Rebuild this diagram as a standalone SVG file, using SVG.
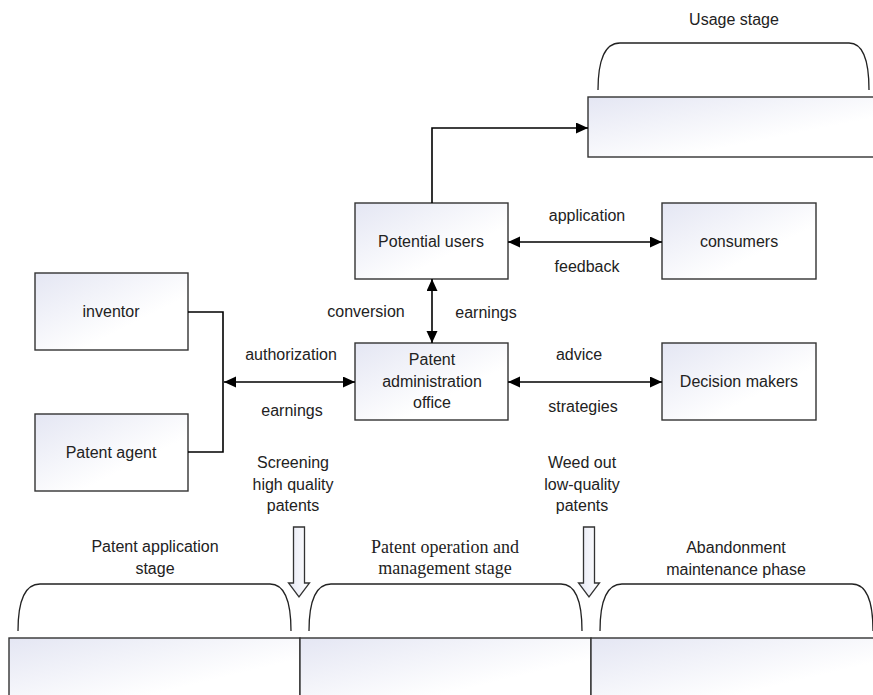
<svg xmlns="http://www.w3.org/2000/svg" width="873" height="695" viewBox="0 0 873 695">
<defs>
  <linearGradient id="g" x1="0" y1="0" x2="1" y2="1">
    <stop offset="0" stop-color="#e4e6f3"/>
    <stop offset="0.65" stop-color="#ffffff"/>
  </linearGradient>
  <linearGradient id="ga" x1="0" y1="0" x2="1" y2="0">
    <stop offset="0" stop-color="#e6e8f4"/>
    <stop offset="1" stop-color="#ffffff"/>
  </linearGradient>
  <marker id="ah" markerUnits="userSpaceOnUse" markerWidth="14" markerHeight="12" refX="12" refY="5.5" orient="auto-start-reverse">
    <path d="M0,0 L12,5.5 L0,11 z" fill="#000"/>
  </marker>
</defs>
<style>
  .box{fill:url(#g);stroke:#333;stroke-width:1.4}
  .t{font-family:"Liberation Sans",Arial,sans-serif;font-size:16px;fill:#222;text-anchor:middle}
  .s{font-family:"Liberation Serif","Times New Roman",serif;font-size:18px;fill:#222;text-anchor:middle}
  .ln{fill:none;stroke:#000;stroke-width:1.6}
  .br{fill:none;stroke:#222;stroke-width:1.3}
  .ha{fill:url(#ga);stroke:#333;stroke-width:1.3}
</style>

<!-- stage braces and boxes -->
<g id="usage-stage">
  <text class="t" x="734" y="25">Usage stage</text>
  <path class="br" d="M598,90 C598,62 604,43 620,43 H849 C864,43 869,62 869,90"/>
  <rect class="box" x="588" y="97" width="300" height="60"/>
</g>
<g id="application-stage">
  <text class="t" x="155" y="552">Patent application</text>
  <text class="t" x="155" y="574">stage</text>
  <path class="br" d="M18,631 C18,603 24,584 40,584 H270 C285,584 291,603 291,631"/>
  <rect class="box" x="9" y="638" width="291" height="70"/>
</g>
<g id="operation-stage">
  <text class="s" x="445" y="553">Patent operation and</text>
  <text class="s" x="445" y="574">management stage</text>
  <path class="br" d="M309,631 C309,603 315,584 331,584 H561 C576,584 582,603 582,631"/>
  <rect class="box" x="300" y="638" width="291" height="70"/>
</g>
<g id="abandonment-stage">
  <text class="t" x="736" y="553">Abandonment</text>
  <text class="t" x="736" y="575">maintenance phase</text>
  <path class="br" d="M600,631 C600,603 606,584 622,584 H852 C867,584 873,603 873,631"/>
  <rect class="box" x="591" y="638" width="300" height="70"/>
</g>

<!-- nodes -->
<g id="inventor">
  <rect class="box" x="35" y="273" width="153" height="77"/>
  <text class="t" x="111" y="317">inventor</text>
</g>
<g id="patent-agent">
  <rect class="box" x="35" y="414" width="153" height="77"/>
  <text class="t" x="111" y="458">Patent agent</text>
</g>
<g id="potential-users">
  <rect class="box" x="355" y="203" width="153" height="76"/>
  <text class="t" x="431" y="247">Potential users</text>
</g>
<g id="consumers">
  <rect class="box" x="662" y="203" width="154" height="76"/>
  <text class="t" x="739" y="247">consumers</text>
</g>
<g id="patent-office">
  <rect class="box" x="355" y="343" width="153" height="77"/>
  <text class="t" x="432" y="365">Patent</text>
  <text class="t" x="432" y="387">administration</text>
  <text class="t" x="432" y="408">office</text>
</g>
<g id="decision-makers">
  <rect class="box" x="662" y="343" width="154" height="77"/>
  <text class="t" x="739" y="387">Decision makers</text>
</g>

<!-- connectors -->
<g id="connectors">
  <path class="ln" d="M432,203 V128 H588" marker-end="url(#ah)"/>
  <line class="ln" x1="508" y1="242" x2="662" y2="242" marker-start="url(#ah)" marker-end="url(#ah)"/>
  <line class="ln" x1="508" y1="382" x2="662" y2="382" marker-start="url(#ah)" marker-end="url(#ah)"/>
  <line class="ln" x1="432" y1="279" x2="432" y2="343" marker-start="url(#ah)" marker-end="url(#ah)"/>
  <path class="ln" d="M188,312 H223 V452 H188"/>
  <line class="ln" x1="224" y1="382" x2="355" y2="382" marker-start="url(#ah)" marker-end="url(#ah)"/>
  <polygon class="ha" points="293.5,527 304.5,527 304.5,583 309.5,583 299,597 288.5,583 293.5,583"/>
  <polygon class="ha" points="583.5,527 594.5,527 594.5,583 599.5,583 589,597 578.5,583 583.5,583"/>
</g>

<!-- connector labels -->
<g id="labels">
  <text class="t" x="587" y="221">application</text>
  <text class="t" x="587" y="272">feedback</text>
  <text class="t" x="366" y="317">conversion</text>
  <text class="t" x="486" y="318">earnings</text>
  <text class="t" x="291" y="360">authorization</text>
  <text class="t" x="292" y="416">earnings</text>
  <text class="t" x="579" y="360">advice</text>
  <text class="t" x="583" y="412">strategies</text>
  <text class="t" x="293" y="468">Screening</text>
  <text class="t" x="293" y="490">high quality</text>
  <text class="t" x="293" y="511">patents</text>
  <text class="t" x="582" y="468">Weed out</text>
  <text class="t" x="582" y="490">low-quality</text>
  <text class="t" x="582" y="511">patents</text>
</g>
</svg>
